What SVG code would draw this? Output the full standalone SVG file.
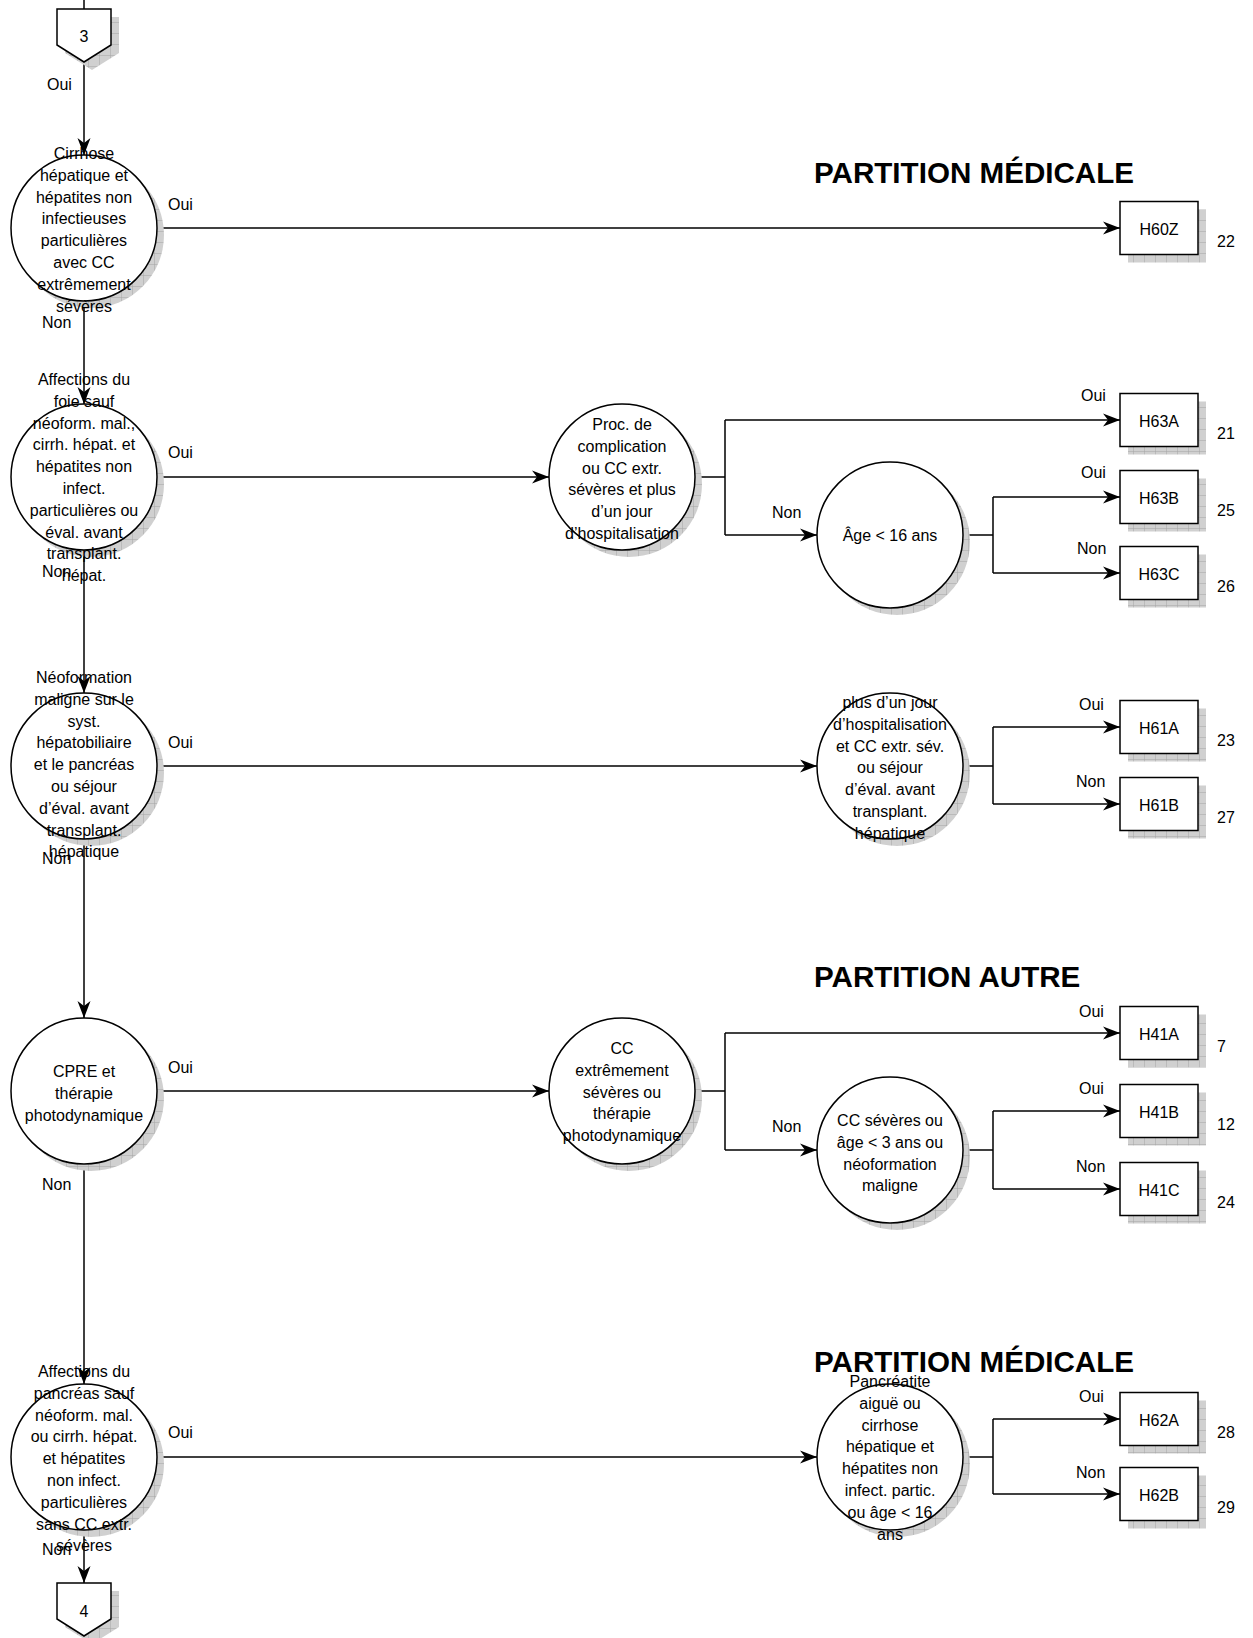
<svg xmlns="http://www.w3.org/2000/svg" width="1253" height="1638" viewBox="0 0 1253 1638">
<style>
text{font-family:"Liberation Sans",Arial,sans-serif;font-size:16px;fill:#000}
.c{text-anchor:middle}
.t{font-size:29.6px;font-weight:bold}
.ln{stroke:#000;stroke-width:1.5;fill:none}
.ar{stroke:#000;stroke-width:1.5;fill:none;marker-end:url(#ah)}
.nd{fill:#fff;stroke:#000;stroke-width:1.5}
.sh{fill:url(#hatch);stroke:none}
</style>
<defs>
<pattern id="hatch" patternUnits="userSpaceOnUse" width="11" height="11">
<rect width="11" height="11" fill="#d0d0d0"/>
<path d="M0,0H11M0,0V11" stroke="#a4a4a4" stroke-width="1"/>
</pattern>
<marker id="ah" markerUnits="userSpaceOnUse" markerWidth="20" markerHeight="16" refX="18" refY="7" orient="auto">
<path d="M18,7 L1,0.5 L6,7 L1,13.5 Z" fill="#000"/>
</marker>
</defs>
<g id="connectors">
<path class="ln" d="M84,0V9"/>
<path class="ar" d="M84,62V155"/>
<path class="ar" d="M84,301V404"/>
<path class="ar" d="M84,550V693"/>
<path class="ar" d="M84,839V1018"/>
<path class="ar" d="M84,1164V1384"/>
<path class="ar" d="M84,1530V1583"/>
<path class="ar" d="M157,228H1120"/>
<path class="ar" d="M157,477H549"/>
<path class="ln" d="M695,477H725M725,420V535"/>
<path class="ar" d="M725,420H1120"/>
<path class="ar" d="M725,535H817"/>
<path class="ln" d="M963,535H993M993,497V573"/>
<path class="ar" d="M993,497H1120"/>
<path class="ar" d="M993,573H1120"/>
<path class="ar" d="M157,766H817"/>
<path class="ln" d="M963,766H993M993,727V804"/>
<path class="ar" d="M993,727H1120"/>
<path class="ar" d="M993,804H1120"/>
<path class="ar" d="M157,1091H549"/>
<path class="ln" d="M695,1091H725M725,1033V1150"/>
<path class="ar" d="M725,1033H1120"/>
<path class="ar" d="M725,1150H817"/>
<path class="ln" d="M963,1150H993M993,1111V1189"/>
<path class="ar" d="M993,1111H1120"/>
<path class="ar" d="M993,1189H1120"/>
<path class="ar" d="M157,1457H817"/>
<path class="ln" d="M963,1457H993M993,1419V1494"/>
<path class="ar" d="M993,1419H1120"/>
<path class="ar" d="M993,1494H1120"/>
<text x="47" y="90">Oui</text>
<text x="168" y="210">Oui</text>
<text x="42" y="328">Non</text>
<text x="168" y="458">Oui</text>
<text x="42" y="577">Non</text>
<text x="772" y="518">Non</text>
<text x="1081" y="401">Oui</text>
<text x="1081" y="478">Oui</text>
<text x="1077" y="554">Non</text>
<text x="168" y="748">Oui</text>
<text x="42" y="864">Non</text>
<text x="1079" y="710">Oui</text>
<text x="1076" y="787">Non</text>
<text x="168" y="1073">Oui</text>
<text x="42" y="1190">Non</text>
<text x="772" y="1132">Non</text>
<text x="1079" y="1017">Oui</text>
<text x="1079" y="1094">Oui</text>
<text x="1076" y="1172">Non</text>
<text x="168" y="1438">Oui</text>
<text x="42" y="1555">Non</text>
<text x="1079" y="1402">Oui</text>
<text x="1076" y="1478">Non</text>
</g>
<g id="titles">
<text class="t" x="814" y="183">PARTITION MÉDICALE</text>
<text class="t" x="814" y="987">PARTITION AUTRE</text>
<text class="t" x="814" y="1372">PARTITION MÉDICALE</text>
</g>
<g id="page3">
<path class="sh" d="M65,17H119V53L92,70L65,53Z"/>
<path class="nd" d="M57,9H111V45L84,62L57,45Z"/>
<text class="c" x="84" y="42">3</text>
</g>
<g id="page4">
<path class="sh" d="M65,1591H119V1627L92,1644L65,1627Z"/>
<path class="nd" d="M57,1583H111V1619L84,1636L57,1619Z"/>
<text class="c" x="84" y="1617">4</text>
</g>
<g id="n1">
<circle class="sh" cx="91" cy="235" r="73"/>
<circle class="nd" cx="84" cy="228" r="73"/>
<text class="c" x="84" y="159">Cirrhose</text>
<text class="c" x="84" y="180.8">hépatique et</text>
<text class="c" x="84" y="202.6">hépatites non</text>
<text class="c" x="84" y="224.4">infectieuses</text>
<text class="c" x="84" y="246.2">particulières</text>
<text class="c" x="84" y="268">avec CC</text>
<text class="c" x="84" y="289.8">extrêmement</text>
<text class="c" x="84" y="311.6">sévères</text>
</g>
<g id="n2">
<circle class="sh" cx="91" cy="484" r="73"/>
<circle class="nd" cx="84" cy="477" r="73"/>
<text class="c" x="84" y="385">Affections du</text>
<text class="c" x="84" y="406.8">foie sauf</text>
<text class="c" x="84" y="428.6">néoform. mal.,</text>
<text class="c" x="84" y="450.4">cirrh. hépat. et</text>
<text class="c" x="84" y="472.2">hépatites non</text>
<text class="c" x="84" y="494">infect.</text>
<text class="c" x="84" y="515.8">particulières ou</text>
<text class="c" x="84" y="537.6">éval. avant</text>
<text class="c" x="84" y="559.4">transplant.</text>
<text class="c" x="84" y="581.2">hépat.</text>
</g>
<g id="n3">
<circle class="sh" cx="91" cy="773" r="73"/>
<circle class="nd" cx="84" cy="766" r="73"/>
<text class="c" x="84" y="683">Néoformation</text>
<text class="c" x="84" y="704.8">maligne sur le</text>
<text class="c" x="84" y="726.6">syst.</text>
<text class="c" x="84" y="748.4">hépatobiliaire</text>
<text class="c" x="84" y="770.2">et le pancréas</text>
<text class="c" x="84" y="792">ou séjour</text>
<text class="c" x="84" y="813.8">d’éval. avant</text>
<text class="c" x="84" y="835.6">transplant.</text>
<text class="c" x="84" y="857.4">hépatique</text>
</g>
<g id="n4">
<circle class="sh" cx="91" cy="1098" r="73"/>
<circle class="nd" cx="84" cy="1091" r="73"/>
<text class="c" x="84" y="1077">CPRE et</text>
<text class="c" x="84" y="1098.8">thérapie</text>
<text class="c" x="84" y="1120.6">photodynamique</text>
</g>
<g id="n5">
<circle class="sh" cx="91" cy="1464" r="73"/>
<circle class="nd" cx="84" cy="1457" r="73"/>
<text class="c" x="84" y="1377">Affections du</text>
<text class="c" x="84" y="1398.8">pancréas sauf</text>
<text class="c" x="84" y="1420.6">néoform. mal.</text>
<text class="c" x="84" y="1442.4">ou cirrh. hépat.</text>
<text class="c" x="84" y="1464.2">et hépatites</text>
<text class="c" x="84" y="1486">non infect.</text>
<text class="c" x="84" y="1507.8">particulières</text>
<text class="c" x="84" y="1529.6">sans CC extr.</text>
<text class="c" x="84" y="1551.4">sévères</text>
</g>
<g id="n_proc">
<circle class="sh" cx="629" cy="484" r="73"/>
<circle class="nd" cx="622" cy="477" r="73"/>
<text class="c" x="622" y="430">Proc. de</text>
<text class="c" x="622" y="451.8">complication</text>
<text class="c" x="622" y="473.6">ou CC extr.</text>
<text class="c" x="622" y="495.4">sévères et plus</text>
<text class="c" x="622" y="517.2">d’un jour</text>
<text class="c" x="622" y="539">d’hospitalisation</text>
</g>
<g id="n_age16">
<circle class="sh" cx="897" cy="542" r="73"/>
<circle class="nd" cx="890" cy="535" r="73"/>
<text class="c" x="890" y="541">Âge &lt; 16 ans</text>
</g>
<g id="n_plus">
<circle class="sh" cx="897" cy="773" r="73"/>
<circle class="nd" cx="890" cy="766" r="73"/>
<text class="c" x="890" y="708">plus d’un jour</text>
<text class="c" x="890" y="729.8">d’hospitalisation</text>
<text class="c" x="890" y="751.6">et CC extr. sév.</text>
<text class="c" x="890" y="773.4">ou séjour</text>
<text class="c" x="890" y="795.2">d’éval. avant</text>
<text class="c" x="890" y="817">transplant.</text>
<text class="c" x="890" y="838.8">hépatique</text>
</g>
<g id="n_ccext">
<circle class="sh" cx="629" cy="1098" r="73"/>
<circle class="nd" cx="622" cy="1091" r="73"/>
<text class="c" x="622" y="1054">CC</text>
<text class="c" x="622" y="1075.8">extrêmement</text>
<text class="c" x="622" y="1097.6">sévères ou</text>
<text class="c" x="622" y="1119.4">thérapie</text>
<text class="c" x="622" y="1141.2">photodynamique</text>
</g>
<g id="n_ccsev">
<circle class="sh" cx="897" cy="1157" r="73"/>
<circle class="nd" cx="890" cy="1150" r="73"/>
<text class="c" x="890" y="1126">CC sévères ou</text>
<text class="c" x="890" y="1147.8">âge &lt; 3 ans ou</text>
<text class="c" x="890" y="1169.6">néoformation</text>
<text class="c" x="890" y="1191.4">maligne</text>
</g>
<g id="n_pancr">
<circle class="sh" cx="897" cy="1464" r="73"/>
<circle class="nd" cx="890" cy="1457" r="73"/>
<text class="c" x="890" y="1387">Pancréatite</text>
<text class="c" x="890" y="1408.8">aiguë ou</text>
<text class="c" x="890" y="1430.6">cirrhose</text>
<text class="c" x="890" y="1452.4">hépatique et</text>
<text class="c" x="890" y="1474.2">hépatites non</text>
<text class="c" x="890" y="1496">infect. partic.</text>
<text class="c" x="890" y="1517.8">ou âge &lt; 16</text>
<text class="c" x="890" y="1539.6">ans</text>
</g>
<g id="H60Z"><rect class="sh" x="1128" y="209.5" width="78" height="53"/><rect class="nd" x="1120" y="201.5" width="78" height="53"/><text class="c" x="1159" y="235">H60Z</text><text x="1217" y="246.5">22</text></g>
<g id="H63A"><rect class="sh" x="1128" y="401.5" width="78" height="53"/><rect class="nd" x="1120" y="393.5" width="78" height="53"/><text class="c" x="1159" y="427">H63A</text><text x="1217" y="438.5">21</text></g>
<g id="H63B"><rect class="sh" x="1128" y="478.5" width="78" height="53"/><rect class="nd" x="1120" y="470.5" width="78" height="53"/><text class="c" x="1159" y="504">H63B</text><text x="1217" y="515.5">25</text></g>
<g id="H63C"><rect class="sh" x="1128" y="554.5" width="78" height="53"/><rect class="nd" x="1120" y="546.5" width="78" height="53"/><text class="c" x="1159" y="580">H63C</text><text x="1217" y="591.5">26</text></g>
<g id="H61A"><rect class="sh" x="1128" y="708.5" width="78" height="53"/><rect class="nd" x="1120" y="700.5" width="78" height="53"/><text class="c" x="1159" y="734">H61A</text><text x="1217" y="745.5">23</text></g>
<g id="H61B"><rect class="sh" x="1128" y="785.5" width="78" height="53"/><rect class="nd" x="1120" y="777.5" width="78" height="53"/><text class="c" x="1159" y="811">H61B</text><text x="1217" y="822.5">27</text></g>
<g id="H41A"><rect class="sh" x="1128" y="1014.5" width="78" height="53"/><rect class="nd" x="1120" y="1006.5" width="78" height="53"/><text class="c" x="1159" y="1040">H41A</text><text x="1217" y="1051.5">7</text></g>
<g id="H41B"><rect class="sh" x="1128" y="1092.5" width="78" height="53"/><rect class="nd" x="1120" y="1084.5" width="78" height="53"/><text class="c" x="1159" y="1118">H41B</text><text x="1217" y="1129.5">12</text></g>
<g id="H41C"><rect class="sh" x="1128" y="1170.5" width="78" height="53"/><rect class="nd" x="1120" y="1162.5" width="78" height="53"/><text class="c" x="1159" y="1196">H41C</text><text x="1217" y="1207.5">24</text></g>
<g id="H62A"><rect class="sh" x="1128" y="1400.5" width="78" height="53"/><rect class="nd" x="1120" y="1392.5" width="78" height="53"/><text class="c" x="1159" y="1426">H62A</text><text x="1217" y="1437.5">28</text></g>
<g id="H62B"><rect class="sh" x="1128" y="1475.5" width="78" height="53"/><rect class="nd" x="1120" y="1467.5" width="78" height="53"/><text class="c" x="1159" y="1501">H62B</text><text x="1217" y="1512.5">29</text></g>
</svg>
